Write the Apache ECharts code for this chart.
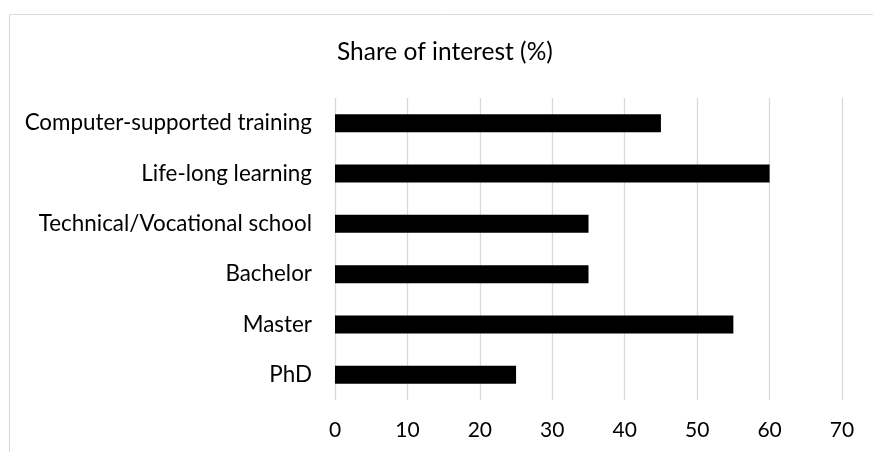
<!DOCTYPE html>
<html>
<head>
<meta charset="utf-8">
<script src="https://cdn.jsdelivr.net/npm/echarts@6/dist/echarts.min.js"></script>
<style>
  html, body { margin: 0; padding: 0; background: #fff; }
  #chart { width: 873px; height: 452px; }
</style>
</head>
<body>
<div id="chart"></div>
<script>
// Categories, listed top to bottom
const categories = [
  'Computer-supported training',
  'Life-long learning',
  'Technical/Vocational school',
  'Bachelor',
  'Master',
  'PhD'
];
// Share of interest per category (%)
const shares = [45, 60, 35, 35, 55, 25];
// Value axis ticks
const axisMin = 0;
const axisMax = 70;
const axisStep = 10;

const FONT = 'Lato, "Open Sans", sans-serif';

const chart = echarts.init(document.getElementById('chart'), null, { renderer: 'canvas' });

chart.setOption({
  animation: false,
  backgroundColor: '#ffffff',
  graphic: [{
    type: 'rect',
    left: 7,
    top: 12,
    shape: { width: 960, height: 540 },
    style: { fill: 'none', stroke: '#d9d9d9', lineWidth: 1 },
    silent: true,
    z: -1
  }],
  title: {
    text: 'Share of interest (%)',
    left: 332,
    top: 35,
    textStyle: { fontFamily: FONT, fontSize: 24.5, fontWeight: 'normal', color: '#000' }
  },
  grid: { left: 335, right: 31, top: 98, bottom: 52, containLabel: false },
  xAxis: {
    type: 'value',
    min: axisMin,
    max: axisMax,
    interval: axisStep,
    axisLine: { show: false },
    axisTick: { show: false },
    axisLabel: { fontFamily: FONT, fontSize: 21, color: '#000', margin: 20 },
    splitLine: { show: true, lineStyle: { color: '#d9d9d9', width: 1.3 } }
  },
  yAxis: {
    type: 'category',
    data: categories,
    inverse: true,
    axisLine: { show: false },
    axisTick: { show: false },
    axisLabel: { fontFamily: FONT, fontSize: 22.4, color: '#000', margin: 23 }
  },
  series: [{
    type: 'bar',
    data: shares,
    barWidth: 18,
    itemStyle: { color: '#000000' }
  }]
});
</script>
</body>
</html>
